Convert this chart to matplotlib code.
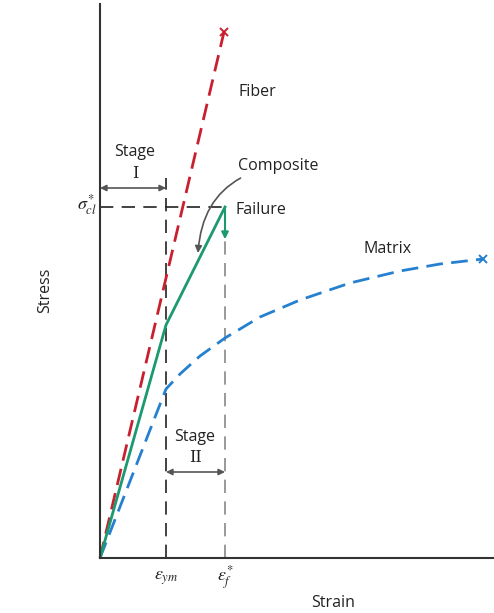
import matplotlib
matplotlib.use("Agg")
import matplotlib.pyplot as plt

plt.rcParams['font.family'] = ['Open Sans', 'DejaVu Sans']
plt.rcParams['mathtext.fontset'] = 'stix'

# Data (arbitrary units)
eps_ym = 0.66
eps_f = 1.25
sigma_cl = 3.51

fiber_strain = [0.0, 1.24]
fiber_stress = [0.0, 5.26]

composite_strain = [0.0, 0.66, 1.25]
composite_stress = [0.0, 2.33, 3.51]
composite_drop = [3.51, 3.16]

matrix_strain = [0.0, 0.66, 0.8, 1.0, 1.25, 1.6, 2.0, 2.5, 3.0, 3.4, 3.83]
matrix_stress = [0.0, 1.69, 1.84, 2.02, 2.20, 2.41, 2.58, 2.75, 2.87, 2.94, 2.99]

W, H = 494, 613
fig = plt.figure(figsize=(W / 100, H / 100), dpi=100)
ax = fig.add_axes([100 / W, (H - 558) / H, 394 / W, 554 / H])
ax.set_xlim(0, 3.94)
ax.set_ylim(0, 5.54)
for s in ['top', 'right']:
    ax.spines[s].set_visible(False)
for s in ['left', 'bottom']:
    ax.spines[s].set_color('#333333')
    ax.spines[s].set_linewidth(1.5)
ax.set_xticks([])
ax.set_yticks([])

red = '#c8202f'
blue = '#2580d0'
green = '#1a9a6e'
grey = '#555555'
txt = '#222222'

# guide lines
ax.plot([0, eps_f], [sigma_cl, sigma_cl], color='#222222', lw=1.2, dashes=(8, 5))
ax.plot([eps_ym, eps_ym], [0, 3.80], color='#222222', lw=1.2, dashes=(8, 5))
ax.plot([eps_f, eps_f], [0, sigma_cl], color='#888888', lw=1.2, dashes=(8, 5))

# curves
ax.plot(fiber_strain, fiber_stress, color=red, lw=2, dashes=(6, 3), clip_on=False)
ax.plot(fiber_strain[-1], fiber_stress[-1], marker='x', color=red, ms=6, mew=1.4, clip_on=False)
ax.plot(matrix_strain, matrix_stress, color=blue, lw=2, dashes=(6, 3))
ax.plot(matrix_strain[-1], matrix_stress[-1], marker='x', color=blue, ms=6, mew=1.4)
ax.plot(composite_strain, composite_stress, color=green, lw=2)
ax.annotate('', xy=(eps_f, composite_drop[1]), xytext=(eps_f, composite_drop[0]),
            arrowprops=dict(arrowstyle='-|>', color=green, lw=1.5, mutation_scale=10))

# stage arrows
ax.annotate('', xy=(0, 3.70), xytext=(eps_ym, 3.70),
            arrowprops=dict(arrowstyle='<|-|>', color=grey, lw=1.2, mutation_scale=9,
                            shrinkA=0, shrinkB=0))
ax.annotate('', xy=(eps_ym, 0.86), xytext=(eps_f, 0.86),
            arrowprops=dict(arrowstyle='<|-|>', color=grey, lw=1.2, mutation_scale=9,
                            shrinkA=0, shrinkB=0))

fs = 11.5
ax.text(0.35, 4.06, 'Stage', ha='center', va='center', fontsize=fs, color=txt)
ax.text(0.35, 3.84, 'I', ha='center', va='center', fontsize=fs, family='DejaVu Serif', color=txt)
ax.text(0.95, 1.21, 'Stage', ha='center', va='center', fontsize=fs, color=txt)
ax.text(0.95, 1.00, 'II', ha='center', va='center', fontsize=fs, family='DejaVu Serif', color=txt)

ax.text(1.38, 4.66, 'Fiber', ha='left', va='center', fontsize=fs, color=txt)
ax.text(1.35, 3.48, 'Failure', ha='left', va='center', fontsize=fs, color=txt)
ax.text(2.88, 3.09, 'Matrix', ha='center', va='center', fontsize=fs, color=txt)
ax.annotate('Composite', xy=(0.98, 3.05), xytext=(1.38, 3.92),
            ha='left', va='center', fontsize=fs, color=txt,
            arrowprops=dict(arrowstyle='-|>', color=grey, lw=1.2, mutation_scale=10,
                            connectionstyle='arc3,rad=0.4', shrinkA=2, shrinkB=0))

ax.text(-0.03, sigma_cl + 0.02, r'$\sigma_{cl}^{*}$', ha='right', va='center', fontsize=13, color=txt)
ax.text(eps_ym, -0.2, r'$\epsilon_{ym}$', ha='center', va='center', fontsize=13, color=txt)
ax.text(eps_f, -0.2, r'$\epsilon_{f}^{*}$', ha='center', va='center', fontsize=13, color=txt)
ax.text(2.33, -0.45, 'Strain', ha='center', va='center', fontsize=fs, color=txt)
fig.text(45 / W, 1 - 290 / H, 'Stress', rotation=90, ha='center', va='center', fontsize=fs, color=txt)

fig.savefig('out.png', dpi=100)
